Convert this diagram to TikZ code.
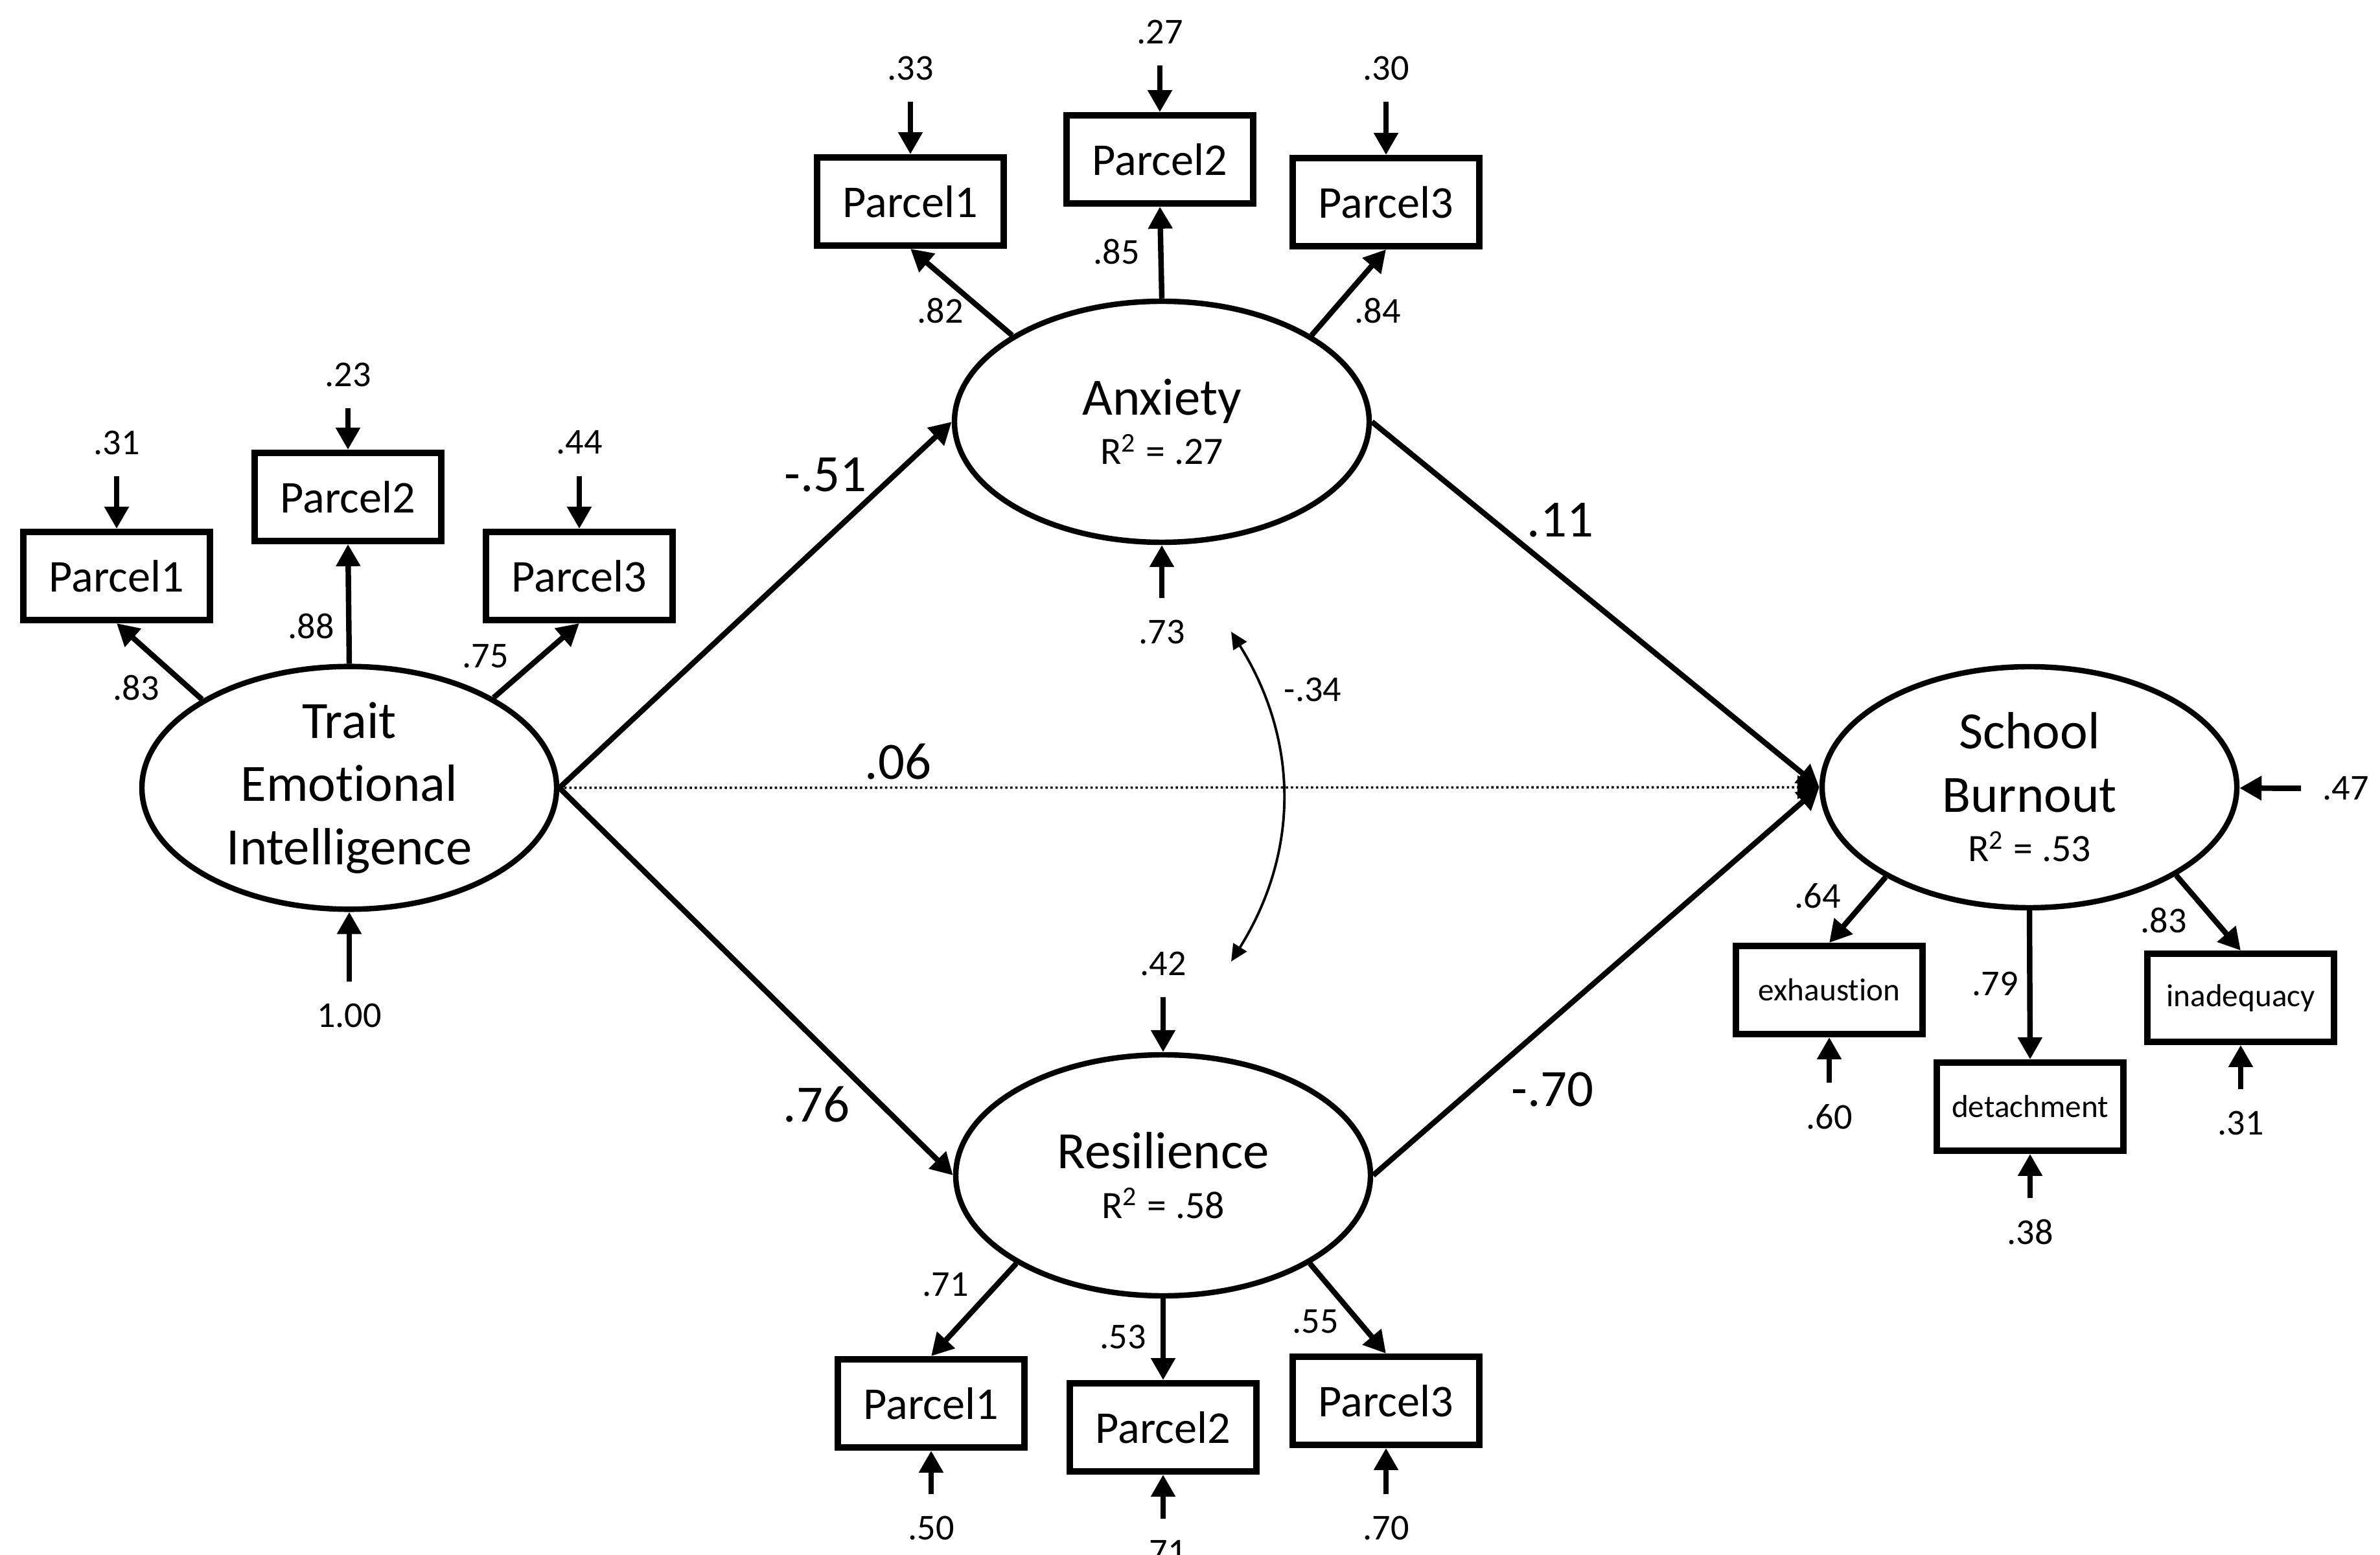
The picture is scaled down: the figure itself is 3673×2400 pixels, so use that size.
\documentclass[tikz,border=0pt]{standalone}
\usepackage{fontspec}
\setmainfont[RawFeature={-liga;-calt}]{Carlito}
\usetikzlibrary{arrows.meta,shapes.geometric}
\begin{document}
\begin{tikzpicture}[x=0.05mm, y=-0.05mm,
    latent/.style={ellipse, draw, line width=1.2pt, minimum width=32mm, minimum height=18.6mm, inner sep=0pt, align=center, font=\fontsize{11.5}{13.9}\selectfont},
    parcel/.style={draw, line width=1.4pt, minimum width=14.4mm, minimum height=6.8mm, inner sep=0pt, font=\fontsize{10}{12}\selectfont},
    facet/.style={parcel, font=\fontsize{7}{8}\selectfont},
    load/.style={line width=1.2pt, -{Triangle[length=1.7mm, width=1.8mm]}},
    cov/.style={line width=0.55pt, {Triangle[length=1.3mm, width=1.2mm]}-{Triangle[length=1.3mm, width=1.2mm]}},
    num/.style={inner sep=0pt, font=\fontsize{8}{9}\selectfont},
    errnum/.style={num, inner sep=1.6mm},
    coef/.style={inner sep=0pt, font=\fontsize{11.5}{13}\selectfont}]
\useasboundingbox (0,0) rectangle (3673,2400);

\node[latent] (tei) at (539,1216) {Trait\\Emotional\\Intelligence};
\node[latent] (anx) at (1793,651) {Anxiety\\[-3pt]{\fontsize{8.5}{10}\selectfont R\textsuperscript{2} = .27}};
\node[latent] (res) at (1795,1814) {Resilience\\[-3pt]{\fontsize{8.5}{10}\selectfont R\textsuperscript{2} = .58}};
\node[latent] (sb) at (3132,1215) {School\\Burnout\\[-3pt]{\fontsize{8.5}{10}\selectfont R\textsuperscript{2} = .53}};

\node[parcel] (tp1) at (180,889) {Parcel1};
\node[parcel] (tp2) at (537,767) {Parcel2};
\node[parcel] (tp3) at (894,889) {Parcel3};
\node[parcel] (ap1) at (1405,311) {Parcel1};
\node[parcel] (ap2) at (1790,246) {Parcel2};
\node[parcel] (ap3) at (2139,312) {Parcel3};
\node[parcel] (rp1) at (1437,2166) {Parcel1};
\node[parcel] (rp2) at (1795,2203) {Parcel2};
\node[parcel] (rp3) at (2139,2162) {Parcel3};
\node[facet] (bx1) at (2823,1528) {exhaustion};
\node[facet] (bx2) at (3133,1708) {detachment};
\node[facet] (bx3) at (3458,1540) {inadequacy};

\node[errnum] (te1) at (180,683) {.31};
\node[errnum] (te2) at (537,578) {.23};
\node[errnum] (te3) at (894,683) {.44};
\node[errnum] (tez) at (539,1567) {1.00};
\node[errnum] (ae1) at (1405,105) {.33};
\node[errnum] (ae2) at (1790,49) {.27};
\node[errnum] (ae3) at (2139,105) {.30};
\node[errnum] (aez) at (1793,975) {.73};
\node[errnum] (rez) at (1795,1487) {.42};
\node[errnum] (re1) at (1437,2358) {.50};
\node[errnum] (re2) at (1795,2396) {.71};
\node[errnum] (re3) at (2139,2358) {.70};
\node[errnum] (sez) at (3620,1217) {.47};
\node[errnum] (be1) at (2823,1724) {.60};
\node[errnum] (be2) at (3133,1902) {.38};
\node[errnum] (be3) at (3458,1733) {.31};

\draw[load] (te1) -- (tp1);
\draw[load] (te2) -- (tp2);
\draw[load] (te3) -- (tp3);
\draw[load] (tez) -- (tei);
\draw[load] (ae1) -- (ap1);
\draw[load] (ae2) -- (ap2);
\draw[load] (ae3) -- (ap3);
\draw[load] (aez) -- (anx);
\draw[load] (rez) -- (res);
\draw[load] (re1) -- (rp1);
\draw[load] (re2) -- (rp2);
\draw[load] (re3) -- (rp3);
\draw[load] (sez) -- (sb);
\draw[load] (be1) -- (bx1);
\draw[load] (be2) -- (bx2);
\draw[load] (be3) -- (bx3);

\draw[load] (tei.149) -- (tp1.south);
\draw[load] (tei.north) -- (tp2.south);
\draw[load] (tei.32) -- (tp3.south);
\draw[load] (anx.150) -- (ap1.south);
\draw[load] (anx.north) -- (ap2.south);
\draw[load] (anx.30) -- (ap3.south);
\draw[load] (res.-149) -- (rp1.north);
\draw[load] (res.south) -- (rp2.north);
\draw[load] (res.-31) -- (rp3.north);
\draw[load] (sb.-148) -- (bx1.north);
\draw[load] (sb.south) -- (bx2.north);
\draw[load] (sb.-31) -- (bx3.north);

\node[num] (lt1) at (210,1062) {.83};
\node[num] (lt2) at (480,967) {.88};
\node[num] (lt3) at (749,1013) {.75};
\node[num] (la1) at (1451,480) {.82};
\node[num] (la2) at (1723,389) {.85};
\node[num] (la3) at (2126,480) {.84};
\node[num] (lr1) at (1459,1983) {.71};
\node[num] (lr2) at (1733,2063) {.53};
\node[num] (lr3) at (2030,2040) {.55};
\node[num] (lb1) at (2805,1383) {.64};
\node[num] (lb2) at (3079,1518) {.79};
\node[num] (lb3) at (3339,1421) {.83};

\draw[load] (tei.east) -- (anx.west);
\draw[load] (tei.east) -- (res.west);
\draw[load] (anx.east) -- (sb.west);
\draw[load] (res.east) -- (sb.west);
\draw[line width=0.5pt, dash pattern=on 0.5pt off 0.6pt, -{Triangle[length=1.7mm, width=1.8mm]}] (tei.east) -- (sb.west);

\coordinate (c1) at (1900,975);
\coordinate (c2) at (1900,1484);
\draw[cov] (c1) to[bend left=32] (c2);
\node[num] (lc) at (2026,1064) {-.34};

\node[coef] (p1) at (1274,733) {-.51};
\node[coef] (p2) at (1260,1705) {.76};
\node[coef] (p3) at (2408,803) {.11};
\node[coef] (p4) at (2396,1682) {-.70};
\node[coef] (p5) at (1386,1176) {.06};
\end{tikzpicture}
\end{document}
